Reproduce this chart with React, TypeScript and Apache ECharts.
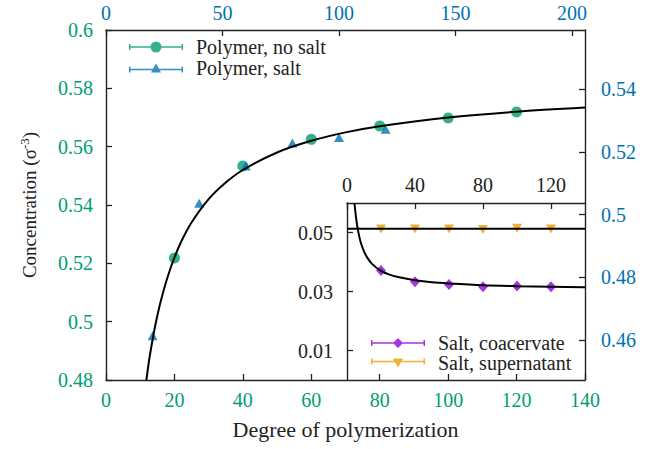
import React, { useEffect, useRef } from 'react';
import * as echarts from 'echarts';

// ---- data ----
const polymerNoSaltX = [20, 40, 60, 80, 100, 120];
const polymerNoSaltY = [0.5218, 0.5534, 0.5625, 0.5671, 0.5698, 0.5719];

const polymerSaltX = [20, 40, 60, 80, 100, 120];
const polymerSaltY = [0.4613, 0.5036, 0.5155, 0.5228, 0.5246, 0.5272];

const polymerFitX = [11.8, 12.5, 13, 14, 15, 16, 18, 20, 22, 25, 30, 35, 40, 50, 60, 70, 80, 100, 120, 140];
const polymerFitY = [0.48, 0.486, 0.4897, 0.4963, 0.502, 0.507, 0.5153, 0.522, 0.5275, 0.534, 0.542, 0.5477, 0.552, 0.558, 0.562, 0.5649, 0.567, 0.57, 0.572, 0.5734];

const saltX = [20, 40, 60, 80, 100, 120];
const saltCoacervateY = [0.0371, 0.0333, 0.0324, 0.0316, 0.0319, 0.0316];
const saltSupernatantY = [0.0512, 0.0512, 0.0512, 0.051, 0.0514, 0.0512];

const coacFitX = [4.4, 5, 6, 7, 8, 10, 12, 15, 20, 25, 30, 40, 50, 60, 80, 100, 120, 140];
const coacFitY = [0.06, 0.0566, 0.0523, 0.0492, 0.0468, 0.0436, 0.0414, 0.0392, 0.037, 0.0357, 0.0349, 0.0338, 0.0331, 0.0327, 0.0321, 0.0318, 0.0316, 0.0314];

const superFitX = [0, 140];
const superFitY = [0.0513, 0.0513];

const bottomTicks = [0, 20, 40, 60, 80, 100, 120, 140];
const topTicks = [0, 50, 100, 150, 200];
const rightTicks = [0.46, 0.48, 0.5, 0.52, 0.54];
const insetXTicks = [0, 40, 80, 120];
const insetYTicks = [0.01, 0.03, 0.05];

// ---- styling ----
const FONT = 'Liberation Serif';
const GREEN = '#009E73';
const BLUE = '#0072B2';
const PURPLE = '#9400D3';
const ORANGE = '#E69F00';
const INK = '#222';
const FS = 20;

const zip = (xs: number[], ys: number[]) => xs.map((x, i) => [x, ys[i]]);

const circleIcon = 'path://M0,2.5H1.5V8.5H0Z M0,4.75H54V6.25H0Z M52.5,2.5H54V8.5H52.5Z M21.5,5.5A5.5,5.5 0 1 1 32.5,5.5A5.5,5.5 0 1 1 21.5,5.5Z';
const triIcon = 'path://M0,3H1.5V9H0Z M0,5.25H54V6.75H0Z M52.5,3H54V9H52.5Z M27,0L32,9L22,9Z';
const diamondIcon = 'path://M0,2H1.5V8H0Z M0,4.25H54V5.75H0Z M52.5,2H54V8H52.5Z M27,0L32,5L27,10L22,5Z';
const triDownIcon = 'path://M0,0H1.5V6H0Z M0,2.25H54V3.75H0Z M52.5,0H54V6H52.5Z M22,0L32,0L27,9Z';

const axisLine = { show: true, onZero: false, lineStyle: { color: INK, width: 1.4 } };
const tick = (customValues?: number[]) => ({
  show: true,
  inside: true,
  length: 6,
  lineStyle: { color: INK, width: 1.3 },
  ...(customValues ? { customValues } : {}),
});
const label = (color: string, margin: number, customValues?: number[]) => ({
  color,
  fontFamily: FONT,
  fontSize: FS,
  margin,
  ...(customValues ? { customValues } : {}),
});

const legendText = {
  fontFamily: FONT,
  fontSize: FS,
  color: INK,
  lineHeight: 20,
  padding: [0, 0, 0, 8],
};

const option: any = {
  animation: false,
  backgroundColor: '#fff',
  textStyle: { fontFamily: FONT },
  grid: [
    { left: 106, right: 77, top: 30, bottom: 69 },
    { left: 347, right: 77, top: 203, bottom: 69 },
  ],
  xAxis: [
    {
      type: 'value', gridIndex: 0, position: 'bottom', min: 0, max: 140, interval: 20,
      axisLine, axisTick: tick(bottomTicks), axisLabel: label(GREEN, 10, bottomTicks),
      splitLine: { show: false },
      name: 'Degree of polymerization', nameLocation: 'middle', nameGap: 38,
      nameTextStyle: { fontFamily: FONT, fontSize: 22, color: INK },
    },
    {
      type: 'value', gridIndex: 0, position: 'top', min: 0, max: 205.6,
      axisLine, axisTick: tick(topTicks), axisLabel: label(BLUE, 7, topTicks),
      splitLine: { show: false },
    },
    {
      type: 'value', gridIndex: 1, position: 'top', min: 0, max: 140,
      axisLine, axisTick: tick(insetXTicks), axisLabel: label(INK, 8, insetXTicks),
      splitLine: { show: false },
    },
  ],
  yAxis: [
    {
      type: 'value', gridIndex: 0, position: 'left', min: 0.48, max: 0.6, interval: 0.02,
      axisLine, axisTick: tick(), axisLabel: label(GREEN, 13),
      splitLine: { show: false },
      name: '{a|Concentration (σ}{s|-3}{a|)}', nameLocation: 'middle', nameGap: 66,
      nameTextStyle: {
        color: INK,
        fontFamily: FONT,
        rich: {
          a: { fontFamily: FONT, fontSize: 19, color: INK },
          s: { fontFamily: FONT, fontSize: 13, color: INK, padding: [0, 0, 9, 0] },
        },
      },
    },
    {
      type: 'value', gridIndex: 0, position: 'right', min: 0.4472, max: 0.5589,
      axisLine, axisTick: tick(rightTicks), axisLabel: label(BLUE, 16, rightTicks),
      splitLine: { show: false },
    },
    {
      type: 'value', gridIndex: 1, position: 'left', min: 0, max: 0.06,
      axisLine, axisTick: tick(insetYTicks), axisLabel: label(INK, 14, insetYTicks),
      splitLine: { show: false },
    },
  ],
  legend: [
    {
      orient: 'vertical', left: 129, top: 37, padding: 0, itemWidth: 54, itemHeight: 11, itemGap: 1,
      selectedMode: false, textStyle: legendText,
      data: [
        { name: 'Polymer, no salt', icon: circleIcon },
        { name: 'Polymer, salt', icon: triIcon },
      ],
    },
    {
      orient: 'vertical', left: 371, top: 333, padding: 0, itemWidth: 54, itemHeight: 11, itemGap: 0,
      selectedMode: false, textStyle: legendText,
      data: [
        { name: 'Salt, coacervate', icon: diamondIcon },
        { name: 'Salt, supernatant', icon: triDownIcon },
      ],
    },
  ],
  series: [
    {
      name: 'Polymer, no salt', type: 'scatter', xAxisIndex: 0, yAxisIndex: 0,
      symbol: 'circle', symbolSize: 11, itemStyle: { color: GREEN }, z: 3,
      data: zip(polymerNoSaltX, polymerNoSaltY),
    },
    {
      name: 'Polymer, salt', type: 'scatter', xAxisIndex: 1, yAxisIndex: 1,
      symbol: 'triangle', symbolSize: [10, 9], itemStyle: { color: BLUE }, z: 4,
      data: zip(polymerSaltX, polymerSaltY),
    },
    {
      name: 'polymer fit', type: 'line', xAxisIndex: 0, yAxisIndex: 0,
      symbol: 'none', smooth: 0.3, silent: true, z: 5,
      lineStyle: { color: '#000', width: 2 },
      data: zip(polymerFitX, polymerFitY),
    },
    {
      name: 'Salt, coacervate', type: 'scatter', xAxisIndex: 2, yAxisIndex: 2,
      symbol: 'diamond', symbolSize: [10, 11], itemStyle: { color: PURPLE }, z: 3,
      data: zip(saltX, saltCoacervateY),
    },
    {
      name: 'Salt, supernatant', type: 'scatter', xAxisIndex: 2, yAxisIndex: 2,
      symbol: 'triangle', symbolRotate: 180, symbolSize: [10, 9], itemStyle: { color: ORANGE }, z: 3,
      data: zip(saltX, saltSupernatantY),
    },
    {
      name: 'coacervate fit', type: 'line', xAxisIndex: 2, yAxisIndex: 2,
      symbol: 'none', smooth: 0.3, silent: true, z: 5,
      lineStyle: { color: '#000', width: 2 },
      data: zip(coacFitX, coacFitY),
    },
    {
      name: 'supernatant fit', type: 'line', xAxisIndex: 2, yAxisIndex: 2,
      symbol: 'none', silent: true, z: 5,
      lineStyle: { color: '#000', width: 2 },
      data: zip(superFitX, superFitY),
    },
  ],
};

export default function App() {
  const ref = useRef<HTMLDivElement>(null);
  useEffect(() => {
    const chart = echarts.init(ref.current as HTMLDivElement, null, { renderer: 'svg' });
    chart.setOption(option);
    return () => chart.dispose();
  }, []);
  return (
    <div
      ref={ref}
      style={{ position: 'fixed', left: 0, top: 0, width: 662, height: 449 }}
    />
  );
}
